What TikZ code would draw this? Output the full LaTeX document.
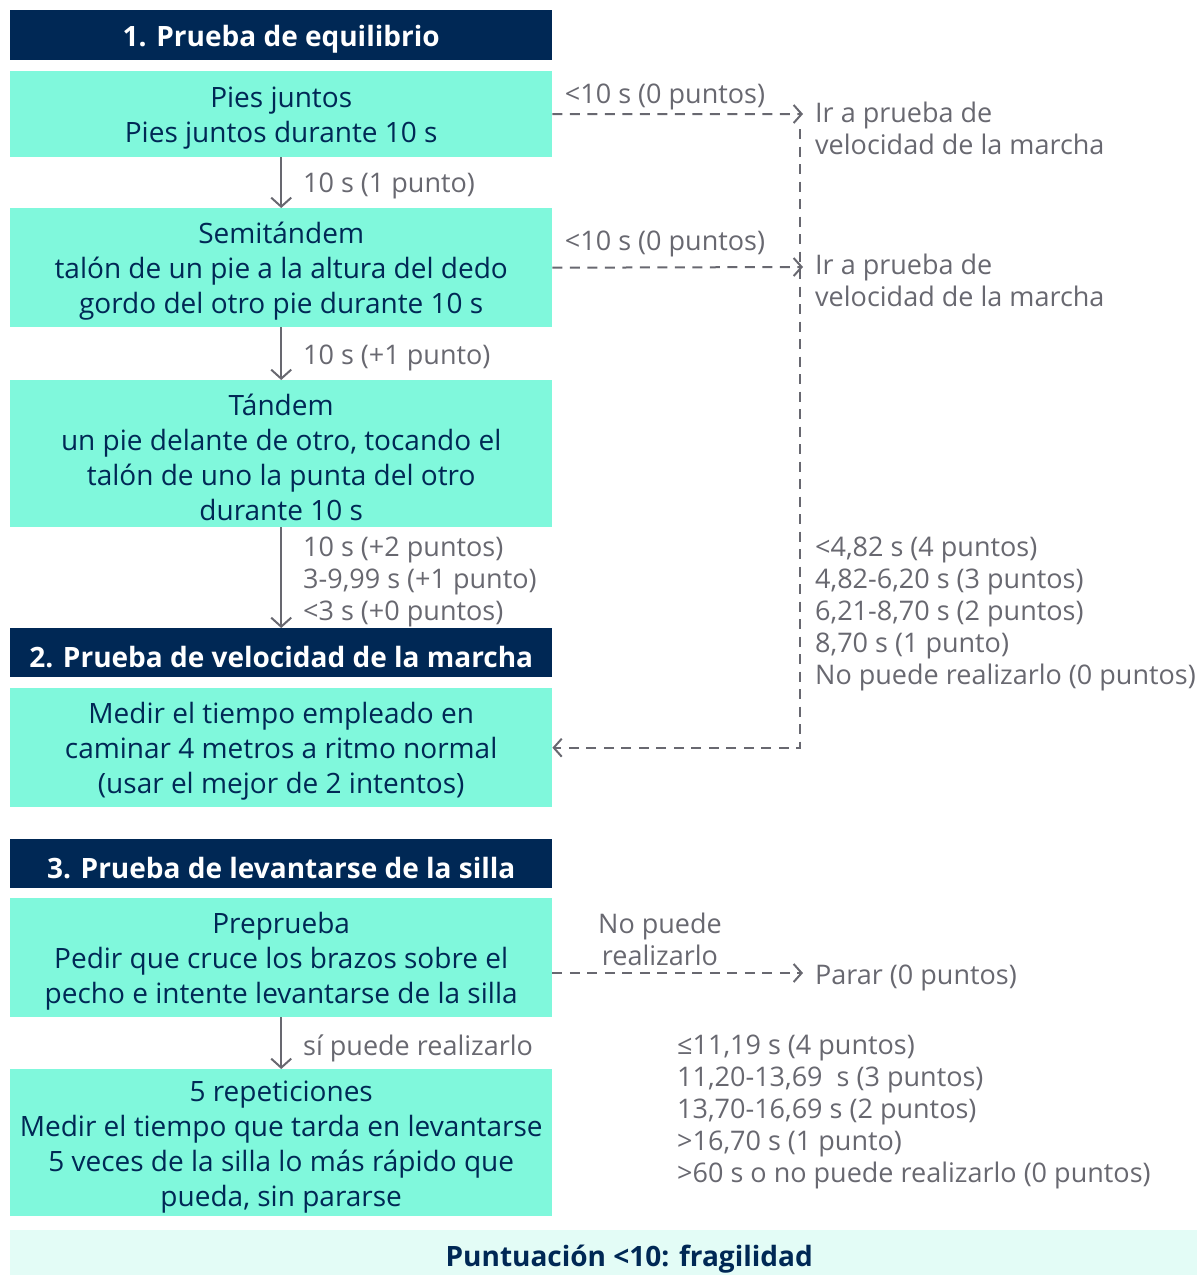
\documentclass[tikz,border=0pt]{standalone}
\usepackage{fontspec}
\setmainfont{Open Sans}
\usetikzlibrary{arrows.meta}
\definecolor{navy}{RGB}{0,40,85}
\definecolor{aqua}{RGB}{128,248,220}
\definecolor{mint}{RGB}{227,252,246}
\definecolor{greytxt}{RGB}{104,104,112}
\newcommand\toplift{\rule{0pt}{29pt}}
\begin{document}
\begin{tikzpicture}[x=1pt,y=-1pt,
  hdr/.style={fill=navy,text=white,font=\fontsize{28}{35}\selectfont\bfseries,minimum width=542pt,minimum height=50pt,inner sep=0pt,anchor=north west,execute at begin node={\toplift}},
  stepbox/.style={fill=aqua,text=navy,font=\fontsize{28}{35}\selectfont,align=center,minimum width=542pt,inner sep=0pt,anchor=north west},
  lbl/.style={text=greytxt,font=\fontsize{27}{32}\selectfont,align=left,inner sep=0pt},
  flow/.style={draw=greytxt,line width=2pt,-{Straight Barb[length=9pt,width=20pt,line width=2pt]}},
  dline/.style={draw=greytxt,line width=2pt,dash pattern=on 10pt off 7.5pt},
  dflow/.style={dline,-{Straight Barb[length=8pt,width=18pt,line width=2pt]}},
]
\useasboundingbox (0,0) rectangle (1197,1275);
% left column
\node[hdr] (h1) at (10,10) {1. Prueba de equilibrio};
\node[stepbox,minimum height=86pt] (b1) at (10,71) {\toplift Pies juntos\\Pies juntos durante 10 s};
\node[stepbox,minimum height=119pt] (b2) at (10,208) {\toplift Semitándem\\talón de un pie a la altura del dedo\\gordo del otro pie durante 10 s};
\node[stepbox,minimum height=147pt] (b3) at (10,380) {\toplift Tándem\\un pie delante de otro, tocando el\\talón de uno la punta del otro\\durante 10 s};
\node[hdr,minimum height=49pt] (h2) at (10,628) {2. Prueba de velocidad de la marcha};
\node[stepbox,minimum height=119pt] (b4) at (10,688) {\toplift Medir el tiempo empleado en\\caminar 4 metros a ritmo normal\\(usar el mejor de 2 intentos)};
\node[hdr,minimum height=49pt] (h3) at (10,839) {3. Prueba de levantarse de la silla};
\node[stepbox,minimum height=119pt] (b5) at (10,898) {\toplift Preprueba\\Pedir que cruce los brazos sobre el\\pecho e intente levantarse de la silla};
\node[stepbox,minimum height=147pt] (b6) at (10,1069) {\toplift 5 repeticiones\\Medir el tiempo que tarda en levantarse\\5 veces de la silla lo más rápido que\\pueda, sin pararse};
\node[fill=mint,text=navy,font=\fontsize{28}{35}\selectfont\bfseries,minimum width=1238pt,minimum height=45pt,inner sep=0pt,anchor=north west,execute at begin node={\rule{0pt}{34pt}}] (fin) at (10,1230) {Puntuación <10: fragilidad};
% vertical arrows
\draw[flow] (b1.south) -- (b2.north);
\draw[flow] (b2.south) -- (b3.north);
\draw[flow] (b3.south) -- (h2.north);
\draw[flow] (b5.south) -- (b6.north);
% arrow labels
\node[lbl,anchor=west] (l1) at (303,186) {10 s (1 punto)};
\node[lbl,anchor=west] (l2) at (303,358) {10 s (+1 punto)};
\node[lbl,anchor=west] (l3) at (303,582) {10 s (+2 puntos)\\3-9,99 s (+1 punto)\\<3 s (+0 puntos)};
\node[lbl,anchor=west] (l4) at (303,1048) {sí puede realizarlo};
% right side
\coordinate (t1) at (803,114);
\coordinate (t2) at (803,267);
\coordinate (t5) at (803,973);
\coordinate (vtop) at (800,129);
\draw[dflow] (b1.east) -- (t1);
\draw[dflow] (b2.east) -- (t2);
\draw[dflow] (vtop) |- (b4.east);
\draw[dflow] (b5.east |- t5) -- (t5);
\node[lbl,anchor=center] (c1) at (665,97) {<10 s (0 puntos)};
\node[lbl,anchor=center] (c2) at (665,244) {<10 s (0 puntos)};
\node[lbl,anchor=west] (ir1) at (815,128) {Ir a prueba de\\velocidad de la marcha};
\node[lbl,anchor=west] (ir2) at (815,280) {Ir a prueba de\\velocidad de la marcha};
\node[lbl,anchor=west] (vel) at (815,614) {<4,82 s (4 puntos)\\4,82-6,20 s (3 puntos)\\6,21-8,70 s (2 puntos)\\8,70 s (1 punto)\\No puede realizarlo (0 puntos)};
\node[lbl,align=center,anchor=center] (np) at (660,939) {No puede\\realizarlo};
\node[lbl,anchor=west] (parar) at (815,978) {Parar (0 puntos)};
\node[lbl,anchor=west] (sil) at (677,1112) {≤11,19 s (4 puntos)\\11,20-13,69 \ s (3 puntos)\\13,70-16,69 s (2 puntos)\\>16,70 s (1 punto)\\>60 s o no puede realizarlo (0 puntos)};
\end{tikzpicture}
\end{document}
